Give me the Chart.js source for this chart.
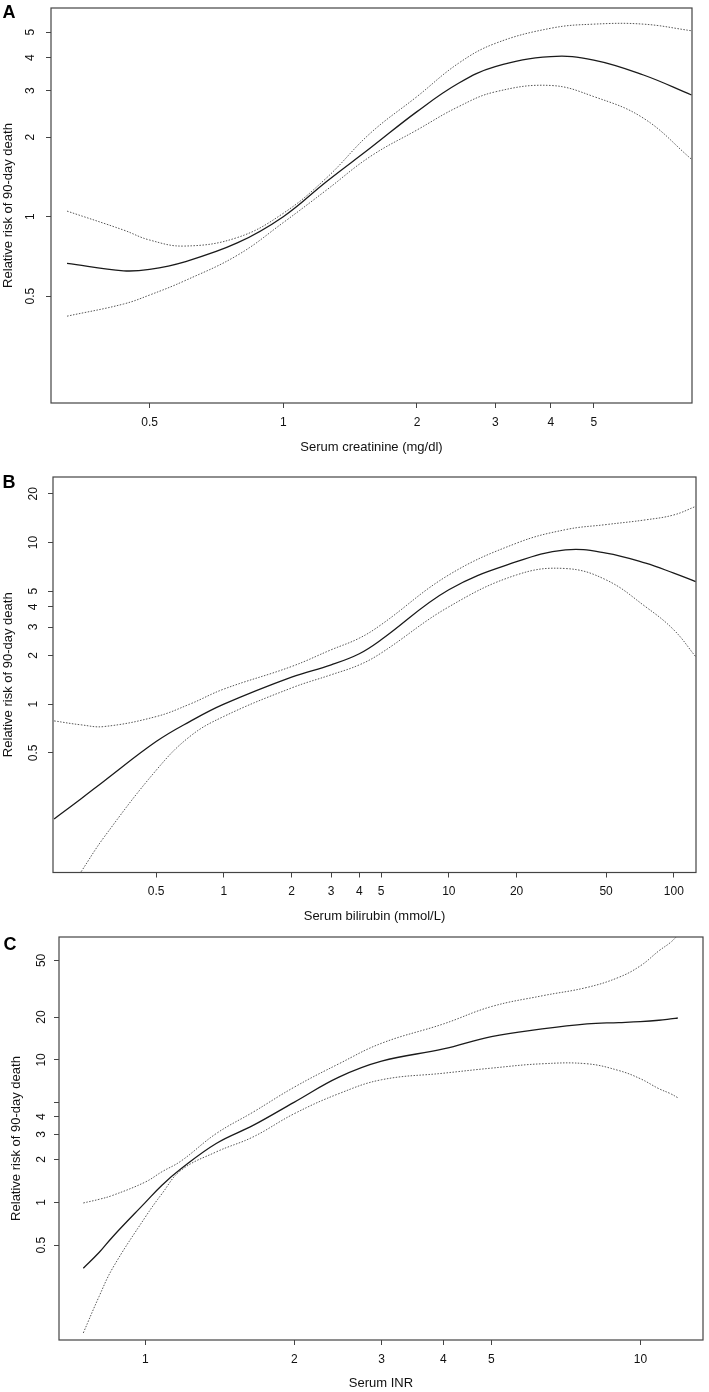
<!DOCTYPE html>
<html>
<head>
<meta charset="utf-8">
<script src="https://cdn.jsdelivr.net/npm/chart.js@4.4.1/dist/chart.umd.min.js"></script>
<style>
  body { margin: 0; background: #fff; }
  canvas { position: absolute; left: 0; }
</style>
</head>
<body>
<canvas id="chartA" width="709" height="462" style="top:0px"></canvas>
<canvas id="chartB" width="709" height="463" style="top:462px"></canvas>
<canvas id="chartC" width="709" height="467" style="top:925px"></canvas>
<script>
// Panel A: serum creatinine
const creatX = [0.326, 0.437, 0.5, 0.6, 0.79, 1, 1.25, 1.57, 2, 2.48, 3, 4, 5, 6.47, 8.3];
const creatRR = [0.666, 0.624, 0.632, 0.675, 0.797, 1.0, 1.357, 1.82, 2.5, 3.2, 3.7, 4.04, 3.92, 3.44, 2.89];
const creatUpper = [1.05, 0.89, 0.816, 0.774, 0.835, 1.03, 1.4, 2.07, 2.85, 3.81, 4.53, 5.17, 5.36, 5.36, 5.06];
const creatLower = [0.42, 0.467, 0.505, 0.572, 0.716, 0.95, 1.26, 1.69, 2.13, 2.61, 2.97, 3.14, 2.85, 2.36, 1.65];
const creatXTicks = [0.5, 1, 2, 3, 4, 5];
const creatYTicks = [0.5, 1, 2, 3, 4, 5];

// Panel B: serum bilirubin
const biliX = [0.176, 0.232, 0.293, 0.5, 0.705, 1, 2, 3, 4, 5, 10, 20, 33, 50, 75, 100, 125];
const biliRR = [0.195, 0.26, 0.334, 0.587, 0.78, 1.0, 1.47, 1.75, 2.05, 2.5, 5.1, 7.6, 9.0, 8.6, 7.45, 6.46, 5.73];
const biliUpper = [0.788, 0.745, 0.727, 0.838, 1.0, 1.24, 1.71, 2.17, 2.56, 3.1, 6.3, 9.9, 12.0, 12.9, 13.8, 14.8, 16.7];
const biliLower = [null, 0.092, 0.15, 0.39, 0.63, 0.84, 1.26, 1.52, 1.75, 2.07, 4.0, 6.3, 6.9, 5.87, 4.0, 2.88, 1.97];
const biliXTicks = [0.5, 1, 2, 3, 4, 5, 10, 20, 50, 100];
const biliYTicks = [0.5, 1, 2, 3, 4, 5, 10, 20];

// Panel C: serum INR
const inrX = [0.749, 0.806, 0.859, 1, 1.08, 1.18, 1.39, 1.65, 2, 2.46, 3, 4, 5, 6.33, 7.8, 9.04, 10, 10.9, 11.5, 11.9];
const inrRR = [0.345, 0.444, 0.574, 1.0, 1.32, 1.72, 2.59, 3.47, 5.06, 7.57, 9.8, 11.96, 14.6, 16.5, 17.9, 18.3, 18.6, 19.0, 19.4, 19.7];
const inrUpper = [0.99, 1.05, 1.12, 1.39, 1.64, 1.95, 3.04, 4.3, 6.45, 9.4, 13.1, 17.9, 23.7, 28.2, 32.3, 38, 45.8, 58.4, 66.8, 75];
const inrLower = [0.121, 0.218, 0.346, 0.79, 1.15, 1.68, 2.26, 2.88, 4.2, 5.8, 7.26, 8.07, 8.76, 9.4, 9.4, 8.43, 7.38, 6.28, 5.8, 5.43];
const inrXTicks = [1, 2, 3, 4, 5, 10];
const inrYTicks = [0.5, 1, 2, 3, 4, 5, 10, 20, 50];
const inrYHidden = [5]; // R dropped this label (overlap)

const FONT = '"Liberation Sans", Arial, Helvetica, sans-serif';
Chart.defaults.font.family = FONT;
Chart.defaults.color = '#111';

// Рамка вокруг области графика и буква панели
const framePlugin = {
  id: 'panelFrame',
  afterDraw(chart, args, opts) {
    const { ctx, chartArea: a } = chart;
    ctx.save();
    ctx.strokeStyle = '#444';
    ctx.lineWidth = 1.2;
    ctx.strokeRect(a.left, a.top, a.right - a.left, a.bottom - a.top);
    ctx.fillStyle = '#000';
    ctx.font = 'bold 18px ' + FONT;
    ctx.textAlign = 'center';
    ctx.textBaseline = 'middle';
    ctx.fillText(opts.letter, opts.x, opts.y);
    ctx.restore();
  }
};

function toPoints(xs, ys) {
  const pts = [];
  xs.forEach((x, i) => {
    if (ys[i] !== null) pts.push({ x: x, y: ys[i] });
  });
  return pts;
}

function makePanel(id, d, g) {
  const fixTicks = (values) => (scale) => {
    scale.ticks = values.map((v) => ({ value: v }));
  };
  const hidden = d.yHidden || [];

  new Chart(document.getElementById(id), {
    type: 'line',
    data: {
      datasets: [
        {
          data: toPoints(d.x, d.upper),
          borderColor: '#555',
          borderWidth: 1,
          borderDash: [1.5, 1.5],
          pointRadius: 0,
          tension: 0.4,
        },
        {
          data: toPoints(d.x, d.lower),
          borderColor: '#555',
          borderWidth: 1,
          borderDash: [1.5, 1.5],
          pointRadius: 0,
          tension: 0.4,
        },
        {
          data: toPoints(d.x, d.rr),
          borderColor: '#1a1a1a',
          borderWidth: 1.3,
          pointRadius: 0,
          tension: 0.4,
        },
      ],
    },
    options: {
      responsive: false,
      animation: false,
      devicePixelRatio: 1,
      layout: { padding: { left: 0, top: g.top, right: g.right, bottom: 0 } },
      plugins: {
        legend: { display: false },
        tooltip: { enabled: false },
        panelFrame: { letter: g.letter, x: g.letterX, y: g.letterY },
      },
      scales: {
        x: {
          type: 'logarithmic',
          position: 'bottom',
          min: d.xMin,
          max: d.xMax,
          afterBuildTicks: fixTicks(d.xTicks),
          afterFit: (s) => {
            s.height = g.xHeight;
            s.paddingLeft = 0;
            s.paddingRight = 0;
          },
          grid: { drawOnChartArea: false, drawTicks: true, tickLength: 5, color: '#444' },
          border: { display: false },
          ticks: {
            autoSkip: false,
            maxRotation: 0,
            padding: 7,
            font: { size: 12 },
            callback: (v) => String(v),
          },
          title: {
            display: true,
            text: d.xTitle,
            font: { size: 13 },
            padding: { top: 0, bottom: g.xTitlePad },
          },
        },
        y: {
          type: 'logarithmic',
          position: 'left',
          min: d.yMin,
          max: d.yMax,
          afterBuildTicks: fixTicks(d.yTicks),
          afterFit: (s) => {
            s.width = g.yWidth;
            s.paddingTop = 0;
            s.paddingBottom = 0;
          },
          grid: { drawOnChartArea: false, drawTicks: true, tickLength: 5, color: '#444' },
          border: { display: false },
          ticks: {
            autoSkip: false,
            minRotation: 90,
            maxRotation: 90,
            crossAlign: 'center',
            padding: g.yTickPad,
            font: { size: 12 },
            callback: (v) => (hidden.includes(v) ? '' : String(v)),
          },
          title: {
            display: true,
            text: 'Relative risk of 90-day death',
            font: { size: 13 },
            padding: { top: g.yTitlePad, bottom: 0 },
          },
        },
      },
    },
    plugins: [framePlugin],
  });
}

makePanel('chartA', {
  x: creatX, rr: creatRR, upper: creatUpper, lower: creatLower,
  xMin: 0.326, xMax: 8.32, yMin: 0.197, yMax: 6.17,
  xTicks: creatXTicks, yTicks: creatYTicks,
  xTitle: 'Serum creatinine (mg/dl)',
}, { letter: 'A', letterX: 9, letterY: 13, top: 8, right: 17, yWidth: 51, xHeight: 59, yTickPad: 6.5, yTitlePad: 0.2, xTitlePad: 7.2 });

makePanel('chartB', {
  x: biliX, rr: biliRR, upper: biliUpper, lower: biliLower,
  xMin: 0.174, xMax: 125.5, yMin: 0.091, yMax: 25.4,
  xTicks: biliXTicks, yTicks: biliYTicks,
  xTitle: 'Serum bilirubin (mmol/L)',
}, { letter: 'B', letterX: 9, letterY: 21, top: 15, right: 13, yWidth: 53, xHeight: 52.5, yTickPad: 6, yTitlePad: 0.5, xTitlePad: 0.5 });

makePanel('chartC', {
  x: inrX, rr: inrRR, upper: inrUpper, lower: inrLower,
  xMin: 0.669, xMax: 13.38, yMin: 0.108, yMax: 73,
  xTicks: inrXTicks, yTicks: inrYTicks, yHidden: inrYHidden,
  xTitle: 'Serum INR',
}, { letter: 'C', letterX: 10, letterY: 20, top: 12, right: 6, yWidth: 59, xHeight: 52, yTickPad: 3.5, yTitlePad: 9, xTitlePad: 0.9 });
</script>
</body>
</html>
